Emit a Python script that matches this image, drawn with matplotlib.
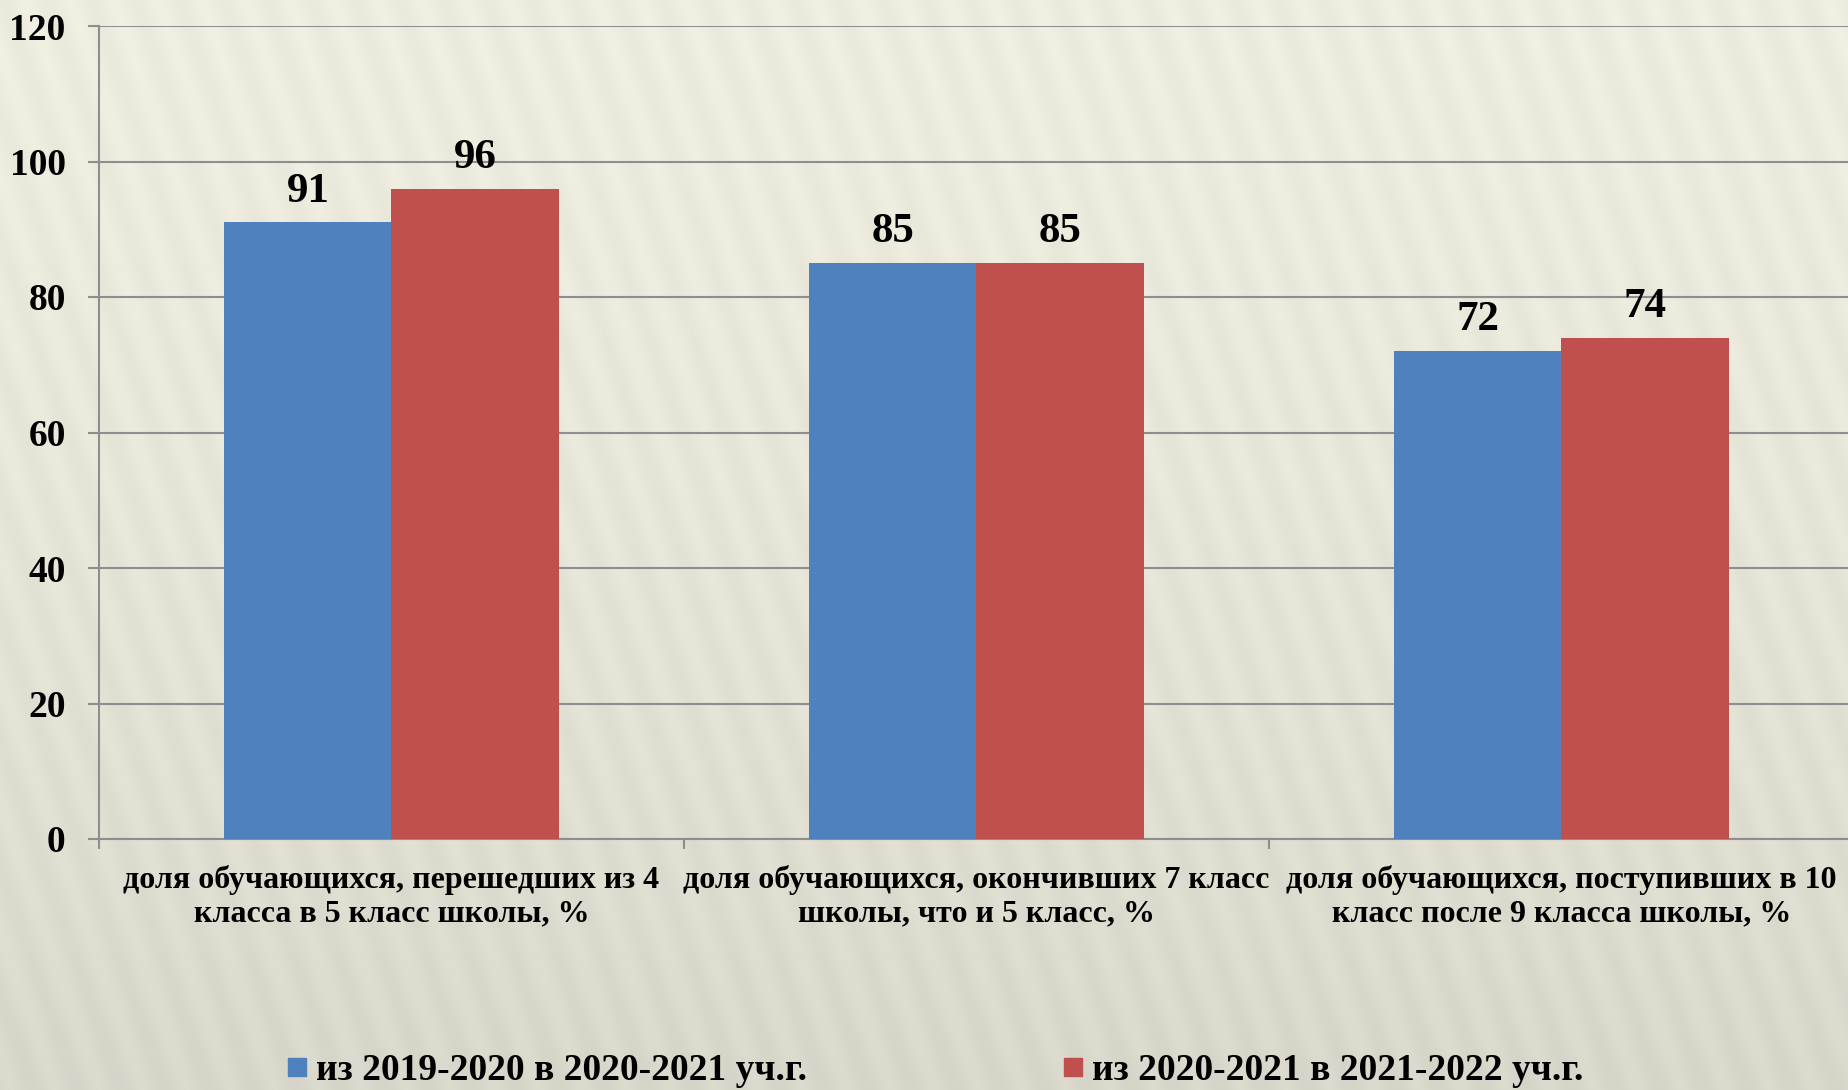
import numpy as np
import matplotlib
matplotlib.use("Agg")
import matplotlib.pyplot as plt
from matplotlib.lines import Line2D

categories = [
    "доля обучающихся, перешедших из 4\nкласса в 5 класс школы, %",
    "доля обучающихся, окончивших 7 класс\nшколы, что и 5 класс, %",
    "доля обучающихся, поступивших в 10\nкласс после 9 класса школы, %",
]
series_names = ["из 2019-2020 в 2020-2021 уч.г.", "из 2020-2021 в 2021-2022 уч.г."]
values_2020 = [91, 85, 72]
values_2021 = [96, 85, 74]
yticks = [0, 20, 40, 60, 80, 100, 120]

blue = "#4F81BD"
red = "#C0504D"
grid_col = "#8E8E8E"

plt.rcParams["font.family"] = ["Liberation Serif", "DejaVu Serif"]
plt.rcParams["font.weight"] = "bold"

W, H = 1849, 1090
fig = plt.figure(figsize=(W / 100, H / 100), dpi=100)

# background: beige paper with soft stripes (decoration only)
bg = fig.add_axes([0, 0, 1, 1], zorder=-10)
yy, xx = np.mgrid[0:H:2, 0:W:2]
shade = 0.935 - 0.085 * (yy / H) ** 1.5
stripes = 0.012 * np.sin((xx + 0.35 * (H - yy)) / 7.0)
base = np.clip(shade + stripes, 0, 1)
img = np.dstack([base * 1.0, base * 0.992, base * 0.935])
bg.imshow(np.clip(img, 0, 1), extent=[0, 1, 0, 1], aspect="auto")
bg.axis("off")

ax = fig.add_axes([99 / W, 251 / H, 1755 / W, 813 / H])
ax.patch.set_alpha(0)

x = np.arange(len(categories))
bw = 1 / 3.5
b1 = ax.bar(x - bw / 2, values_2020, bw, color=blue, zorder=3)
b2 = ax.bar(x + bw / 2, values_2021, bw, color=red, zorder=3)

for bars in (b1, b2):
    for rect in bars:
        h = rect.get_height()
        ax.annotate(f"{h:g}", (rect.get_x() + rect.get_width() / 2, h),
                    xytext=(0, 15), textcoords="offset points",
                    ha="center", va="baseline", fontsize=31, fontweight="bold")

ax.set_xlim(-0.5, 2.5)
ax.set_ylim(0, 120)
ax.set_yticks(yticks)
ax.yaxis.grid(True, color=grid_col, linewidth=1.5, zorder=0)
ax.set_axisbelow(True)

for s in ("top", "right"):
    ax.spines[s].set_visible(False)
for s in ("left", "bottom"):
    ax.spines[s].set_color(grid_col)
    ax.spines[s].set_linewidth(1.5)

ax.tick_params(axis="y", length=8, width=1.5, color=grid_col, pad=16,
               labelsize=27)
for lab in ax.get_yticklabels():
    lab.set_fontweight("bold")

ax.set_xticks(x)
ax.set_xticklabels(categories, fontsize=23, fontweight="bold", linespacing=1.2)
ax.tick_params(axis="x", which="major", length=0, pad=19)
ax.set_xticks([-0.5, 0.5, 1.5, 2.5], minor=True)
ax.tick_params(axis="x", which="minor", length=7, width=1.5, color=grid_col)

handles = [
    Line2D([], [], marker="s", linestyle="none", markersize=13, color=blue),
    Line2D([], [], marker="s", linestyle="none", markersize=13, color=red),
]
fig.legend(handles, series_names, loc="center left",
           bbox_to_anchor=(288 / W, 1 - 1071 / H), ncol=2, frameon=False,
           borderpad=0, borderaxespad=0, handlelength=0.5, handletextpad=0.25,
           columnspacing=6.85, prop={"size": 27, "weight": "bold"})

fig.savefig("out.png", dpi=100)
